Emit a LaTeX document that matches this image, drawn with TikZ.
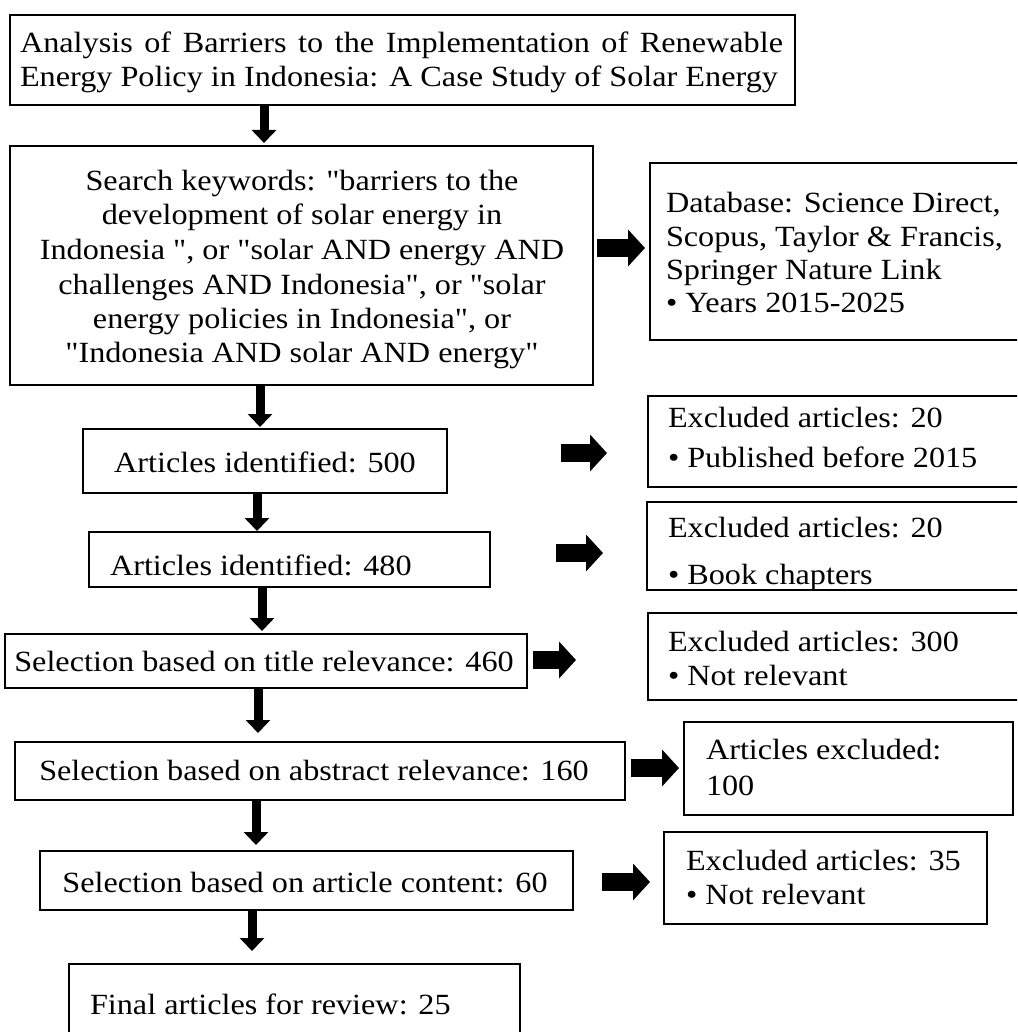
\documentclass[tikz,border=0pt]{standalone}
\usepackage{fontspec}
\setmainfont{Liberation Serif}[FakeStretch=1.1]
\font\qfont="Liberation Serif:extend=1.1" at 29.3pt
\newcommand\qq{{\qfont\char34}}
\usetikzlibrary{arrows.meta}
\begin{document}
\begin{tikzpicture}[x=1pt,y=-1pt,
  box/.style={draw, line width=2.6pt, inner sep=0pt, outer sep=0pt},
  txt/.style={inner sep=0pt, outer sep=0pt, font=\fontsize{29.3}{34}\selectfont},
  darrow/.style={line width=9pt, -{Triangle[width=24pt,length=13pt]}},
  rarrow/.style={line width=18pt, -{Triangle[width=36pt,length=17pt]}},
]
\useasboundingbox (0,0) rectangle (1017,1032);
\fill[white] (0,0) rectangle (1017,1032);
\clip (0,0) rectangle (1017,1032);

% boxes
\node[box, minimum width=785pt, minimum height=90pt] (T) at (402.5,60) {};
\node[box, minimum width=583pt, minimum height=239pt] (S) at (301.5,265.5) {};
\node[box, minimum width=380pt, minimum height=177pt] (D) at (840,251.5) {};
\node[box, minimum width=364pt, minimum height=64pt] (B500) at (265,461) {};
\node[box, minimum width=382pt, minimum height=91pt] (E1) at (839,441.5) {};
\node[box, minimum width=401pt, minimum height=55pt] (B480) at (289.5,559.5) {};
\node[box, minimum width=383pt, minimum height=88pt] (E2) at (838.5,546) {};
\node[box, minimum width=522pt, minimum height=54pt] (B460) at (266,661) {};
\node[box, minimum width=382pt, minimum height=87pt] (E3) at (839,656.5) {};
\node[box, minimum width=610pt, minimum height=58pt] (B160) at (320,771) {};
\node[box, minimum width=329pt, minimum height=93pt] (E100) at (848.5,768.5) {};
\node[box, minimum width=533pt, minimum height=59pt] (B60) at (306.5,880.5) {};
\node[box, minimum width=323pt, minimum height=92pt] (E35) at (825.5,878) {};
\node[box, minimum width=451pt, minimum height=86pt] (F) at (294.5,1007) {};

% texts
\node[txt, anchor=base west] (Tl1) at (20,53) {\makebox[763pt][s]{Analysis of Barriers to the Implementation of Renewable}};
\node[txt, anchor=base west] (Tl2) at (20,87) {Energy Policy in Indonesia: A Case Study of Solar Energy};

\node[txt, anchor=base] (S1) at (302,191) {Search keywords: \qq barriers to the};
\node[txt, anchor=base] (S2) at (302,225) {development of solar energy in};
\node[txt, anchor=base] (S3) at (302,259) {Indonesia \qq, or \qq solar AND energy AND};
\node[txt, anchor=base] (S4) at (302,294) {challenges AND Indonesia\qq, or \qq solar};
\node[txt, anchor=base] (S5) at (302,328) {energy policies in Indonesia\qq, or};
\node[txt, anchor=base] (S6) at (302,362) {\qq Indonesia AND solar AND energy\qq};

\node[txt, anchor=base west] (D1) at (666,213) {Database: Science Direct,};
\node[txt, anchor=base west] (D2) at (666,246) {Scopus, Taylor \& Francis,};
\node[txt, anchor=base west] (D3) at (666,279) {Springer Nature Link};
\node[txt, anchor=base west] (D4) at (666,312) {• Years 2015-2025};

\node[txt, anchor=base] (B500t) at (265,472) {Articles identified: 500};
\node[txt, anchor=base west] (E1a) at (668,427) {Excluded articles: 20};
\node[txt, anchor=base west] (E1b) at (668,467) {• Published before 2015};

\node[txt, anchor=base west] (B480t) at (110,575) {Articles identified: 480};
\begin{scope}
\clip (E2.north west) rectangle (E2.south east);
\node[txt, anchor=base west] (E2a) at (668,537) {Excluded articles: 20};
\node[txt, anchor=base west] (E2b) at (668,584) {• Book chapters};
\end{scope}

\node[txt, anchor=base] (B460t) at (264,671) {Selection based on title relevance: 460};
\node[txt, anchor=base west] (E3a) at (668,651) {Excluded articles: 300};
\node[txt, anchor=base west] (E3b) at (668,685) {• Not relevant};

\node[txt, anchor=base] (B160t) at (314,780) {Selection based on abstract relevance: 160};
\node[txt, anchor=base west] (E100a) at (706,759) {Articles excluded:};
\node[txt, anchor=base west] (E100b) at (706,795) {100};

\node[txt, anchor=base] (B60t) at (305,892) {Selection based on article content: 60};
\node[txt, anchor=base west] (E35a) at (686,870) {Excluded articles: 35};
\node[txt, anchor=base west] (E35b) at (686,904) {• Not relevant};

\node[txt, anchor=base west] (Ft) at (90,1014) {Final articles for review: 25};

% vertical arrows
\coordinate (a1) at (264,0);
\coordinate (a2) at (260,0);
\coordinate (a3) at (257,0);
\coordinate (a4) at (262,0);
\coordinate (a5) at (258,0);
\coordinate (a6) at (256,0);
\coordinate (a7) at (252,0);
\draw[darrow, shorten >=3pt] (T.south -| a1) -- (S.north -| a1);
\draw[darrow, shorten >=2pt] (S.south -| a2) -- (B500.north -| a2);
\draw[darrow, shorten >=1pt] (B500.south -| a3) -- (B480.north -| a3);
\draw[darrow, shorten >=3pt] (B480.south -| a4) -- (B460.north -| a4);
\draw[darrow, shorten >=9pt] (B460.south -| a5) -- (B160.north -| a5);
\draw[darrow, shorten >=6pt] (B160.south -| a6) -- (B60.north -| a6);
\draw[darrow, shorten >=13pt] (B60.south -| a7) -- (F.north -| a7);

% right arrows
\coordinate (r1a) at (597,248); \coordinate (r1b) at (645,248);
\coordinate (r2a) at (561,453); \coordinate (r2b) at (607,453);
\coordinate (r3a) at (556,553); \coordinate (r3b) at (603,553);
\coordinate (r4a) at (533,660); \coordinate (r4b) at (576,660);
\coordinate (r5a) at (631,768); \coordinate (r5b) at (679,768);
\coordinate (r6a) at (602,882); \coordinate (r6b) at (650,882);
\draw[rarrow] (r1a) -- (r1b);
\draw[rarrow] (r2a) -- (r2b);
\draw[rarrow] (r3a) -- (r3b);
\draw[rarrow] (r4a) -- (r4b);
\draw[rarrow] (r5a) -- (r5b);
\draw[rarrow] (r6a) -- (r6b);
\end{tikzpicture}
\end{document}
